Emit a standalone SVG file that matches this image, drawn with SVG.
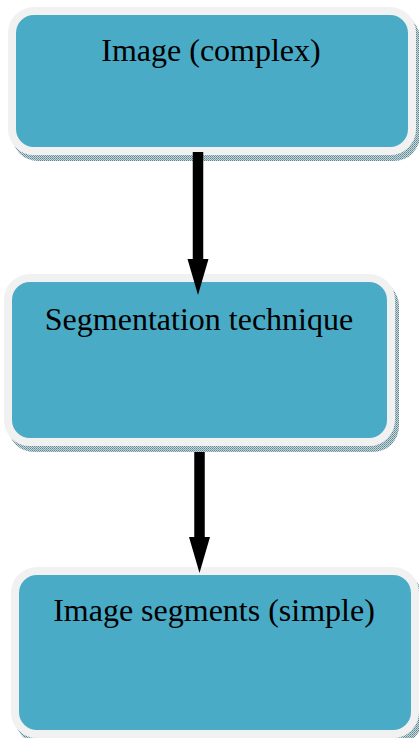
<svg xmlns="http://www.w3.org/2000/svg" width="419" height="738" viewBox="0 0 419 738">
  <defs>
    <pattern id="dots" width="2" height="2" patternUnits="userSpaceOnUse">
      <rect width="2" height="2" fill="#c9d7db"/>
      <rect width="1" height="1" fill="#5d8791"/>
      <rect x="1" y="1" width="1" height="1" fill="#7a9ea7"/>
    </pattern>
    <marker id="head" markerUnits="userSpaceOnUse" markerWidth="40" markerHeight="24" viewBox="0 -12 40 24" refX="0" refY="0" orient="auto">
      <path d="M0,-10.5 L36,0 L0,10.5 Z" fill="#000"/>
    </marker>
  </defs>
  <style>
    .shadow { fill: url(#dots); }
    .box { fill: #4aabc6; stroke: #f1f1f1; stroke-width: 8; }
    .label { font-family: "Liberation Serif", "Times New Roman", serif; font-size: 32px; fill: #000; text-anchor: middle; }
    .conn { stroke: #000; stroke-width: 10.5; fill: none; marker-end: url(#head); }
  </style>
  <rect width="419" height="738" fill="#fff"/>
  <g id="node-image-complex">
    <rect class="shadow" x="12" y="13" width="408" height="148" rx="26"/>
    <rect class="box" x="12" y="11" width="400" height="140" rx="22"/>
    <text class="label" x="211" y="61">Image (complex)</text>
  </g>
  <g id="node-segmentation">
    <rect class="shadow" x="8" y="280" width="391" height="172" rx="26"/>
    <rect class="box" x="8" y="278" width="383" height="164" rx="22"/>
    <text class="label" x="199" y="330">Segmentation technique</text>
  </g>
  <g id="node-image-segments">
    <rect class="shadow" x="15" y="573" width="408" height="171" rx="26"/>
    <rect class="box" x="15" y="571" width="400" height="163" rx="22"/>
    <text class="label" x="214" y="621">Image segments (simple)</text>
  </g>
  <g id="connectors">
    <line class="conn" x1="198" y1="152" x2="198" y2="259"/>
    <line class="conn" x1="199.5" y1="452" x2="199.5" y2="537"/>
  </g>
</svg>
